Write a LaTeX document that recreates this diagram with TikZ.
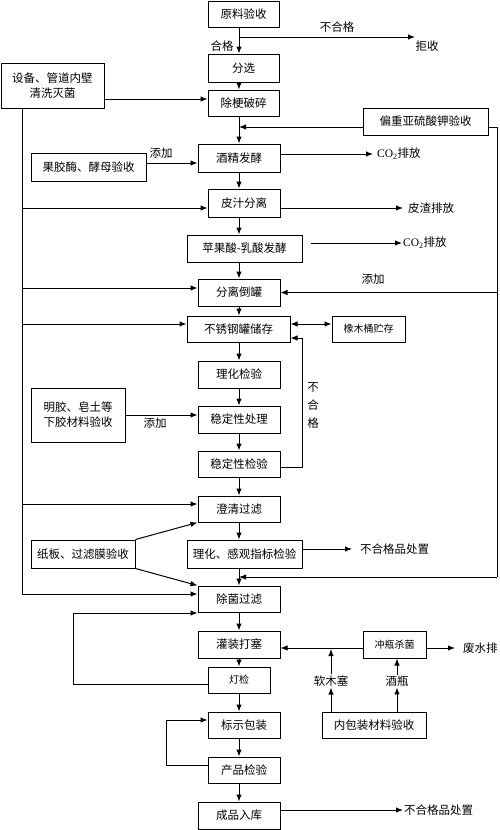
\documentclass[tikz,border=0pt]{standalone}
\usepackage{fontspec}
\setmainfont{Noto Sans CJK SC}
\newfontfamily\latf{Liberation Serif}
\usetikzlibrary{arrows.meta}
\tikzset{
  box/.style={draw, line width=1pt, inner sep=0pt, align=center, font=\fontsize{11.5}{15}\selectfont},
  sbox/.style={box, font=\fontsize{10}{12}\selectfont},
  lab/.style={font=\fontsize{11.5}{14}\selectfont, inner sep=1pt},
  ln/.style={line width=1pt},
  arr/.style={ln, -{Latex[length=7pt,width=5.5pt]}},
  darr/.style={ln, {Latex[length=7pt,width=5.5pt]}-{Latex[length=7pt,width=5.5pt]}}
}
\newcommand{\cotwo}{{\latf CO\textsubscript{2}}}
\begin{document}
\begin{tikzpicture}[x=1pt,y=-1pt]
\useasboundingbox (0,0) rectangle (500,830);
% main axis and left/right bus coordinates
\coordinate (mx) at (239,0);
\coordinate (lx) at (22,0);
\coordinate (rx) at (497,0);
% boxes
\node[box, minimum width=71, minimum height=26] (yl) at (243.5,14) {原料验收};
\node[box, minimum width=71, minimum height=28] (fx) at (243.5,68) {分选};
\node[box, minimum width=71, minimum height=26] (cg) at (243.5,103) {除梗破碎};
\node[box, minimum width=103, minimum height=45] (sb) at (52.5,85.5) {设备、管道内壁\\清洗灭菌};
\node[box, minimum width=125, minimum height=27] (pz) at (425.5,121.5) {偏重亚硫酸钾验收};
\node[box, minimum width=82, minimum height=28] (jj) at (239,158) {酒精发酵};
\node[box, minimum width=115, minimum height=28] (gj) at (88.5,167) {果胶酶、酵母验收};
\node[box, minimum width=72, minimum height=28] (pzfl) at (244,203) {皮汁分离};
\node[box, minimum width=115, minimum height=27] (pg) at (244.5,248.5) {苹果酸-乳酸发酵};
\node[box, minimum width=82, minimum height=27] (fl) at (239,292.5) {分离倒罐};
\node[box, minimum width=103, minimum height=26] (bx) at (238.5,329) {不锈钢罐储存};
\node[sbox, minimum width=73, minimum height=26] (xm) at (368.5,329) {橡木桶贮存};
\node[box, minimum width=82, minimum height=27] (lh) at (239,374.5) {理化检验};
\node[box, minimum width=82, minimum height=27] (wc) at (239,419.5) {稳定性处理};
\node[box, minimum width=94, minimum height=54] (mj) at (78,415) {明胶、皂土等\\下胶材料验收};
\node[box, minimum width=82, minimum height=26] (wj) at (239,464) {稳定性检验};
\node[box, minimum width=82, minimum height=26] (cq) at (239,509) {澄清过滤};
\node[box, minimum width=104, minimum height=28] (zb) at (83,554) {纸板、过滤膜验收};
\node[box, minimum width=115, minimum height=28] (lg) at (244.5,554) {理化、感观指标检验};
\node[box, minimum width=82, minimum height=26] (cj) at (239,599) {除菌过滤};
\node[box, minimum width=82, minimum height=27] (gz) at (239,644.5) {灌装打塞};
\node[sbox, minimum width=62, minimum height=26] (dj) at (239,680) {灯检};
\node[box, minimum width=72, minimum height=26] (bs) at (244,725) {标示包装};
\node[box, minimum width=72, minimum height=26] (cp) at (244,770) {产品检验};
\node[box, minimum width=82, minimum height=27] (cr) at (239,815.5) {成品入库};
\node[sbox, minimum width=63, minimum height=27] (cs) at (394.5,644.5) {冲瓶杀菌};
\node[box, minimum width=104, minimum height=26] (nb) at (374,725) {内包装材料验收};
% labels
\node[lab] (t1) at (337,27) {不合格};
\node[lab] (t2) at (427,46) {拒收};
\node[lab] (t3) at (222,46) {合格};
\node[lab] (t4) at (161,153) {添加};
\node[lab, anchor=west] (t5) at (376,154) {\cotwo 排放};
\node[lab, anchor=west] (t6) at (407,208) {皮渣排放};
\node[lab, anchor=west] (t7) at (402,243) {\cotwo 排放};
\node[lab] (t8) at (373,279) {添加};
\node[lab, align=center, font=\fontsize{11.5}{18}\selectfont] (t9) at (313,406) {不\\合\\格};
\node[lab] (t10) at (155,423) {添加};
\node[lab, anchor=west] (t11) at (359,549) {不合格品处置};
\node[lab, anchor=west] (t12) at (462,648) {废水排};
\node[lab] (rm) at (331,681) {软木塞};
\node[lab] (jp) at (397,681) {酒瓶};
\node[lab, anchor=west] (t13) at (403,810) {不合格品处置};
% coordinates for free ends
\coordinate (js) at (415,37);
\coordinate (co1) at (373,154);
\coordinate (pze) at (403,208);
\coordinate (co2) at (402,243);
\coordinate (bh) at (352,549);
\coordinate (fs) at (455,648);
\coordinate (crx) at (403,810);
% main flow
\draw[arr] (yl.south -| mx) -- (fx.north -| mx);
\draw[arr] (mx |- 0,37) -- (js);
\draw[arr] (fx.south -| mx) -- (cg.north -| mx);
\draw[arr] (cg.south -| mx) -- (jj.north -| mx);
\draw[arr] (jj.south -| mx) -- (pzfl.north -| mx);
\draw[arr] (pzfl.south -| mx) -- (pg.north -| mx);
\draw[arr] (pg.south -| mx) -- (fl.north -| mx);
\draw[arr] (fl.south -| mx) -- (bx.north -| mx);
\draw[arr] (bx.south -| mx) -- (lh.north -| mx);
\draw[arr] (lh.south -| mx) -- (wc.north -| mx);
\draw[arr] (wc.south -| mx) -- (wj.north -| mx);
\draw[arr] (wj.south -| mx) -- (cq.north -| mx);
\draw[arr] (cq.south -| mx) -- (lg.north -| mx);
\draw[arr] (lg.south -| mx) -- (cj.north -| mx);
\draw[arr] (cj.south -| mx) -- (gz.north -| mx);
\draw[arr] (gz.south -| mx) -- (dj.north -| mx);
\draw[arr] (dj.south -| mx) -- (bs.north -| mx);
\draw[arr] (bs.south -| mx) -- (cp.north -| mx);
\draw[arr] (cp.south -| mx) -- (cr.north -| mx);
% side inputs
\draw[arr] (sb.east |- 0,99) -- (cg.west |- 0,99);
\draw[arr] (pz.west |- 0,127) -- (mx |- 0,127);
\draw[ln] (pz.east |- 0,127) -- (rx |- 0,127) -- (rx |- 0,577);
\draw[arr] (rx |- 0,577) -- (mx |- 0,577);
\draw[arr] (rx |- fl.east) -- (fl.east);
\draw[arr] (gj.east |- 0,163) -- (jj.west |- 0,163);
\draw[arr] (jj.east |- 0,154) -- (co1);
\draw[arr] (pzfl.east |- pze) -- (pze);
\draw[arr] ([xshift=8pt]pg.east |- co2) -- (co2);
% left bus
\draw[ln] (sb.south -| lx) -- (lx |- 0,594);
\draw[arr] (lx |- 0,208) -- (pzfl.west |- 0,208);
\draw[arr] (lx |- 0,288) -- (fl.west |- 0,288);
\draw[arr] (lx |- 0,324) -- (bx.west |- 0,324);
\draw[arr] (lx |- 0,504) -- (cq.west |- 0,504);
\draw[arr] (lx |- 0,594) -- (cj.west |- 0,594);
% storage
\draw[darr] (bx.east |- 0,324) -- (xm.west |- 0,324);
\draw[ln] (wj.east |- 0,467) -- (302,467) -- (302,338);
\draw[arr] (302,338) -- (bx.east |- 0,338);
\draw[arr] (mj.east |- 0,415) -- (wc.west |- 0,415);
% filter materials
\draw[arr] (zb.north east) -- (cq.south west);
\draw[arr] (zb.south east) -- (cj.north west);
\draw[arr] (lg.east |- bh) -- (bh);
% bottling
\draw[ln] (dj.west |- 0,684) -- (73,684) -- (73,613);
\draw[arr] (73,613) -- (cj.west |- 0,613);
\draw[arr] (cs.west |- 0,648) -- (gz.east |- 0,648);
\draw[arr] (cs.east |- fs) -- (fs);
\draw[arr] (nb.north -| rm) -- (rm.south);
\draw[arr] (rm.north) -- (rm |- 0,649);
\draw[arr] (nb.north -| jp) -- (jp.south);
\draw[arr] (jp.north) -- (cs.south -| jp);
\draw[ln] (cp.west |- 0,765) -- (166,765) -- (166,720);
\draw[arr] (166,720) -- (bs.west |- 0,720);
\draw[arr] (cr.east |- crx) -- (crx);
\end{tikzpicture}
\end{document}
